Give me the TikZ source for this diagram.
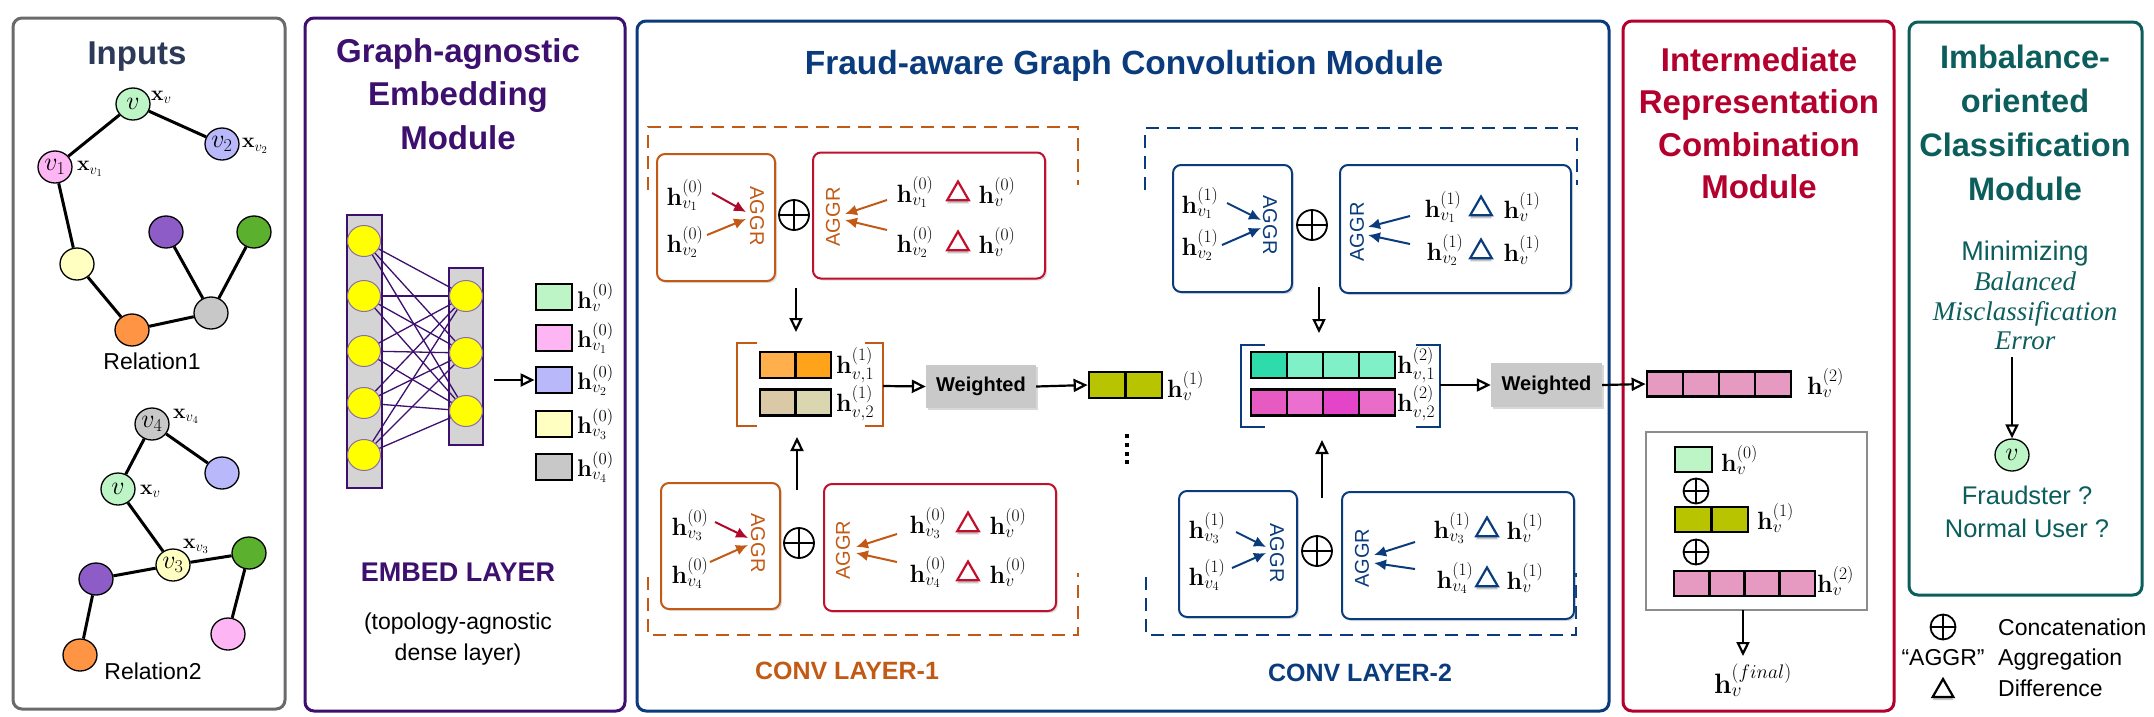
\RequirePackage{fix-cm}
\documentclass[tikz,border=0pt]{standalone}
\usepackage{amsmath}
\usepackage[no-math]{fontspec}
\newfontfamily\lsans{Liberation Sans}
\newfontfamily\lserif{Liberation Serif}
\usetikzlibrary{arrows.meta,shapes.geometric,shadows}

\definecolor{inpT}{HTML}{2C3A58}
\definecolor{inpB}{HTML}{6A6A6A}
\definecolor{embP}{HTML}{3D0F6E}
\definecolor{frB}{HTML}{0A3C7D}
\definecolor{cOr}{HTML}{C25A16}
\definecolor{cRed}{HTML}{C0102E}
\definecolor{arRed}{HTML}{B0082A}
\definecolor{imR}{HTML}{B3002D}
\definecolor{tealM}{HTML}{0B5E5C}
\definecolor{vG}{HTML}{BDF5C6}
\definecolor{vP}{HTML}{FDB5F3}
\definecolor{vL}{HTML}{B8B8FA}
\definecolor{vY}{HTML}{FFFFC2}
\definecolor{vO}{HTML}{FF9445}
\definecolor{vGy}{HTML}{C8C8C8}
\definecolor{vPu}{HTML}{8E5CC6}
\definecolor{vGr}{HTML}{5BB02E}
\definecolor{yelN}{HTML}{FFFF00}
\definecolor{colG}{HTML}{D4D4D4}
\definecolor{orA}{HTML}{FFB04D}
\definecolor{orB}{HTML}{FFA31A}
\definecolor{tnA}{HTML}{D9C9A6}
\definecolor{tnB}{HTML}{D9D6B0}
\definecolor{olv}{HTML}{B9C400}
\definecolor{tqA}{HTML}{2EDBAA}
\definecolor{tqB}{HTML}{80F0C8}
\definecolor{mgA}{HTML}{E65AC2}
\definecolor{mgB}{HTML}{EA6FCF}
\definecolor{mgC}{HTML}{E445C8}
\definecolor{mgD}{HTML}{E96CC9}
\definecolor{pkC}{HTML}{E699C1}
\definecolor{wG}{HTML}{C9C9C9}
\definecolor{boxG}{HTML}{8C8C8C}

\newcommand\hh[2]{$\mathbf{h}^{(#1)}_{#2}$}
\newcommand\fsz[1]{\fontsize{#1}{#1}\selectfont}

\tikzset{
  panel/.style={draw=#1, line width=3pt, rounded corners=9pt},
  gnode/.style={ellipse, draw=black, line width=1.3pt, minimum width=34pt, minimum height=32pt, inner sep=0pt, font=\fsz{26}},
  gedge/.style={line width=3pt, black},
  xlab/.style={inner sep=0pt, anchor=west, font=\fsz{21}},
  ynode/.style={ellipse, fill=yelN, draw=embP!60, line width=1pt, minimum width=33pt, minimum height=31pt, inner sep=0pt},
  colbox/.style={draw=embP, fill=colG, line width=1.5pt, inner sep=0pt},
  dense/.style={embP, line width=1.3pt},
  cell/.style={draw=black, line width=2.8pt, minimum width=36pt, minimum height=26pt, inner sep=0pt},
  hlab/.style={inner sep=0pt, font=\fsz{25}},
  bigarr/.style={line width=2.2pt, -{Triangle[open,length=14pt,width=13pt]}},
  sarr/.style={draw=#1, line width=2pt, -{Latex[length=12pt,width=11pt]}},
  cbox/.style={draw=#1, line width=2pt, rounded corners=8pt, fill=white, inner sep=0pt, drop shadow={shadow xshift=2pt, shadow yshift=-2pt, opacity=0.25}},
  aggrL/.style={inner sep=0pt, text=#1, font=\fsz{20}\lsans, rotate=-90},
  aggrR/.style={inner sep=0pt, text=#1, font=\fsz{20}\lsans, rotate=90},
  oplus/.style={circle, draw=black, line width=1.8pt, minimum size=#1, inner sep=0pt, path picture={\draw[line width=1.8pt] (path picture bounding box.north) -- (path picture bounding box.south) (path picture bounding box.west) -- (path picture bounding box.east);}},
  dtri/.style={regular polygon, regular polygon sides=3, draw=#1, fill=white, line width=2.2pt, minimum size=25pt, inner sep=0pt, drop shadow={shadow xshift=0pt, shadow yshift=-3pt, opacity=0.45}},
  wbox/.style={fill=wG, minimum width=110pt, minimum height=43pt, inner sep=0pt, font=\fsz{20}\lsans\bfseries, drop shadow={shadow xshift=1.5pt, shadow yshift=-2pt, opacity=0.3}},
  dashbr/.style={draw=#1, line width=2.5pt, dash pattern=on 13pt off 8pt},
  brk/.style={draw=#1, line width=2pt},
  vdot/.style={fill=black, minimum size=4.5pt, inner sep=0pt},
}

\begin{document}
\begin{tikzpicture}[x=1pt,y=-1pt]
\fill[white] (0,0) rectangle (2154,716);
\useasboundingbox (0,0) rectangle (2154,716);

% ---------------- panels
\draw[panel=inpB] (13,18) rectangle (285,709);
\draw[panel=embP] (305,18) rectangle (625,711);
\draw[panel=frB] (637,21) rectangle (1609,711);
\draw[panel=imR] (1623,21) rectangle (1894,711);
\draw[panel=tealM] (1909,22) rectangle (2142,595);

% ---------------- titles
\node[font=\fsz{33}\lsans\bfseries, text=inpT, anchor=base] (tIn) at (137,64) {Inputs};
\node[font={\fontsize{33}{43.5}\selectfont\lsans\bfseries}, text=embP, align=center] (tEm) at (458,94) {Graph-agnostic\\Embedding\\Module};
\node[font=\fsz{33.5}\lsans\bfseries, text=frB, anchor=base] (tFr) at (1124,74) {Fraud-aware Graph Convolution Module};
\node[font={\fontsize{33}{42.5}\selectfont\lsans\bfseries}, text=imR, align=center] (tIr) at (1759,123) {Intermediate\\Representation\\Combination\\Module};
\node[font={\fontsize{32.5}{44}\selectfont\lsans\bfseries}, text=tealM, align=center] (tIm) at (2025,123) {Imbalance-\\oriented\\Classification\\Module};

% ---------------- Inputs: relation 1
\node[gnode, fill=vG] (a) at (133,104) {$v$};
\node[gnode, fill=vL] (a2) at (222,144) {$v_2$};
\node[gnode, fill=vP] (a1) at (55,167) {$v_1$};
\node[gnode, fill=vY] (a3) at (77,264) {};
\node[gnode, fill=vPu] (a4) at (166,232) {};
\node[gnode, fill=vGr] (a5) at (254,232) {};
\node[gnode, fill=vGy] (a6) at (211,313) {};
\node[gnode, fill=vO] (a7) at (132,330) {};
\draw[gedge] (a) -- (a1) (a) -- (a2) (a1) -- (a3) (a3) -- (a7) (a7) -- (a6) (a6) -- (a4) (a6) -- (a5);
\node[xlab] (xa) at (151,97) {$\mathbf{x}_v$};
\node[xlab] (xa2) at (242,146) {$\mathbf{x}_{v_2}$};
\node[xlab] (xa1) at (77,169) {$\mathbf{x}_{v_1}$};
\node[font=\fsz{23}\lsans, anchor=base] (rel1) at (152,369) {Relation1};

% ---------------- Inputs: relation 2
\node[gnode, fill=vGy] (b4) at (152,424) {$v_4$};
\node[gnode, fill=vL] (bL) at (222,473) {};
\node[gnode, fill=vG] (b) at (118,489) {$v$};
\node[gnode, fill=vY] (b3) at (173,565) {$v_3$};
\node[gnode, fill=vGr] (bG) at (249,553) {};
\node[gnode, fill=vPu] (bP) at (96,579) {};
\node[gnode, fill=vP] (bK) at (228,634) {};
\node[gnode, fill=vO] (bO) at (80,655) {};
\draw[gedge] (b4) -- (b) (b4) -- (bL) (b) -- (b3) (b3) -- (bP) (b3) -- (bG) (bP) -- (bO) (bG) -- (bK);
\node[xlab] (xb4) at (173,416) {$\mathbf{x}_{v_4}$};
\node[xlab] (xb) at (140,491) {$\mathbf{x}_v$};
\node[xlab] (xb3) at (183,546) {$\mathbf{x}_{v_3}$};
\node[font=\fsz{23}\lsans, anchor=base] (rel2) at (153,679) {Relation2};

% ---------------- Embedding module
\node[colbox, minimum width=35pt, minimum height=273pt] (colL) at (364.5,351.5) {};
\node[colbox, minimum width=34pt, minimum height=177pt] (colR) at (466,356.5) {};
\foreach \y [count=\i] in {241,296,351,403,455} \node[ynode] (l\i) at (364,\y) {};
\foreach \y [count=\i] in {296,353,411} \node[ynode] (r\i) at (466,\y) {};
\foreach \i in {1,...,5} \foreach \j in {1,2,3} \draw[dense] (l\i) -- (r\j);
\foreach \c/\y [count=\i] in {vG/297, vP/338, vL/380, vY/424, vGy/467} \node[cell, fill=\c] (e\i) at (554,\y) {};
\node[hlab, font=\fsz{24}, anchor=west] (el1) at (577,297) {\hh{0}{v}};
\node[hlab, font=\fsz{24}, anchor=west] (el2) at (577,338) {\hh{0}{v_1}};
\node[hlab, font=\fsz{24}, anchor=west] (el3) at (577,380) {\hh{0}{v_2}};
\node[hlab, font=\fsz{24}, anchor=west] (el4) at (577,424) {\hh{0}{v_3}};
\node[hlab, font=\fsz{24}, anchor=west] (el5) at (577,467) {\hh{0}{v_4}};
\coordinate (ea) at (494,380);
\draw[bigarr] (ea) -- (e3.west);
\node[font=\fsz{27}\lsans\bfseries, text=embP, anchor=base] (embL) at (458,581) {EMBED LAYER};
\node[font={\fontsize{23}{31}\selectfont\lsans}, align=center] (embD) at (458,639) {(topology-agnostic\\dense layer)};

% ---------------- CONV LAYER-1
\draw[dashbr=cOr] (648,190) -- (648,127) -- (1078,127) -- (1078,185);
\draw[dashbr=cOr] (648,577) -- (648,635) -- (1078,635) -- (1078,573);
% top
\node[cbox=cOr, minimum width=118pt, minimum height=127pt] (T1L) at (716,217.5) {};
\node[cbox=cRed, minimum width=232pt, minimum height=126pt] (T1R) at (929,215.5) {};
\node[hlab] (T1a) at (685,195) {\hh{0}{v_1}};
\node[hlab] (T1b) at (685,242) {\hh{0}{v_2}};
\node[aggrL=cOr] (T1g) at (757,216) {AGGR};
\coordinate (T1p1) at (712,193); \coordinate (T1q1) at (746,212);
\coordinate (T1p2) at (707,235); \coordinate (T1q2) at (746,219);
\draw[sarr=arRed] (T1p1) -- (T1q1);
\draw[sarr=cOr] (T1p2) -- (T1q2);
\node[oplus=30pt] (T1o) at (794,215) {};
\node[aggrR=cOr] (T1G) at (833,217) {AGGR};
\coordinate (T1p3) at (887,200); \coordinate (T1q3) at (845,214);
\coordinate (T1p4) at (887,230); \coordinate (T1q4) at (845,220);
\draw[sarr=cOr] (T1p3) -- (T1q3);
\draw[sarr=cOr] (T1p4) -- (T1q4);
\node[hlab] (T1c) at (915,192) {\hh{0}{v_1}};
\node[dtri=cRed] (T1d) at (958,194) {};
\node[hlab] (T1e) at (997,192) {\hh{0}{v}};
\node[hlab] (T1f) at (915,242) {\hh{0}{v_2}};
\node[dtri=cRed] (T1h) at (958,244) {};
\node[hlab] (T1i) at (997,242) {\hh{0}{v}};
% bottom
\node[cbox=cOr, minimum width=119pt, minimum height=126pt] (B1L) at (720.5,546) {};
\node[cbox=cRed, minimum width=232pt, minimum height=127pt] (B1R) at (940,547.5) {};
\node[hlab] (B1a) at (690,525) {\hh{0}{v_3}};
\node[hlab] (B1b) at (690,573) {\hh{0}{v_4}};
\node[aggrL=cOr] (B1g) at (758,543) {AGGR};
\coordinate (B1p1) at (715,522); \coordinate (B1q1) at (748,538);
\coordinate (B1p2) at (710,562); \coordinate (B1q2) at (748,545);
\draw[sarr=arRed] (B1p1) -- (B1q1);
\draw[sarr=cOr] (B1p2) -- (B1q2);
\node[oplus=30pt] (B1o) at (799,543) {};
\node[aggrR=cOr] (B1G) at (843,550) {AGGR};
\coordinate (B1p3) at (897,534); \coordinate (B1q3) at (856,547);
\coordinate (B1p4) at (897,562); \coordinate (B1q4) at (856,553);
\draw[sarr=cOr] (B1p3) -- (B1q3);
\draw[sarr=cOr] (B1p4) -- (B1q4);
\node[hlab] (B1c) at (928,523) {\hh{0}{v_3}};
\node[dtri=cRed] (B1d) at (968,525) {};
\node[hlab] (B1e) at (1008,523) {\hh{0}{v}};
\node[hlab] (B1f) at (928,572) {\hh{0}{v_4}};
\node[dtri=cRed] (B1h) at (968,574) {};
\node[hlab] (B1i) at (1008,572) {\hh{0}{v}};
\node[font=\fsz{25}\lsans\bfseries, text=cOr, anchor=base] (cv1) at (847,679) {CONV LAYER-1};
% middle
\coordinate (d1s) at (796,288); \coordinate (d1e) at (796,332);
\draw[bigarr] (d1s) -- (d1e);
\coordinate (u1s) at (797,490); \coordinate (u1e) at (797,437);
\draw[bigarr] (u1s) -- (u1e);
\draw[brk=cOr] (757,343) -- (737,343) -- (737,426) -- (757,426);
\draw[brk=cOr] (865,343) -- (883,343) -- (883,426) -- (865,426);
\foreach \c [count=\i] in {orA,orB} \node[cell, minimum width=35.5pt, fill=\c] (m1a\i) at ({760+35.5*\i-17.75},365) {};
\foreach \c [count=\i] in {tnA,tnB} \node[cell, minimum width=35.5pt, fill=\c] (m1b\i) at ({760+35.5*\i-17.75},402.5) {};
\node[hlab, anchor=west] (m1la) at (836,365) {\hh{1}{v,1}};
\node[hlab, anchor=west] (m1lb) at (836,403) {\hh{1}{v,2}};
\coordinate (br1) at (883,386);
\node[wbox] (w1) at (981,386.5) {Weighted};
\draw[bigarr] (br1) -- (w1.west);
\foreach \i in {1,2} \node[cell, minimum width=36.5pt, fill=olv] (h1c\i) at ({1089+36.5*\i-18.25},385) {};
\draw[bigarr] (w1.east) -- (h1c1.west);
\node[hlab, anchor=west] (h1l) at (1167,386) {\hh{1}{v}};
\foreach \y [count=\i] in {436,445,454,462} \node[vdot] (dot\i) at (1127,\y) {};

% ---------------- CONV LAYER-2
\draw[dashbr=frB] (1145,190) -- (1145,128) -- (1577,128) -- (1577,185);
\draw[dashbr=frB] (1146,577) -- (1146,635) -- (1576,635) -- (1576,573);
% top
\node[cbox=frB, minimum width=119pt, minimum height=127pt] (T2L) at (1232.5,228.5) {};
\node[cbox=frB, minimum width=231pt, minimum height=128pt] (T2R) at (1455.5,229) {};
\node[hlab] (T2a) at (1200,203) {\hh{1}{v_1}};
\node[hlab] (T2b) at (1200,245) {\hh{1}{v_2}};
\node[aggrL=frB] (T2g) at (1270,225) {AGGR};
\coordinate (T2p1) at (1227,203); \coordinate (T2q1) at (1261,220);
\coordinate (T2p2) at (1222,245); \coordinate (T2q2) at (1261,228);
\draw[sarr=frB] (T2p1) -- (T2q1);
\draw[sarr=frB] (T2p2) -- (T2q2);
\node[oplus=30pt] (T2o) at (1312,225) {};
\node[aggrR=frB] (T2G) at (1357,232) {AGGR};
\coordinate (T2p3) at (1410,216); \coordinate (T2q3) at (1368,227);
\coordinate (T2p4) at (1410,244); \coordinate (T2q4) at (1368,235);
\draw[sarr=frB] (T2p3) -- (T2q3);
\draw[sarr=frB] (T2p4) -- (T2q4);
\node[hlab] (T2c) at (1443,207) {\hh{1}{v_1}};
\node[dtri=frB] (T2d) at (1481,209) {};
\node[hlab] (T2e) at (1522,207) {\hh{1}{v}};
\node[hlab] (T2f) at (1445,250) {\hh{1}{v_2}};
\node[dtri=frB] (T2h) at (1481,252) {};
\node[hlab] (T2i) at (1522,250) {\hh{1}{v}};
% bottom
\node[cbox=frB, minimum width=118pt, minimum height=126pt] (B2L) at (1238,554) {};
\node[cbox=frB, minimum width=232pt, minimum height=127pt] (B2R) at (1458,555.5) {};
\node[hlab] (B2a) at (1207,528) {\hh{1}{v_3}};
\node[hlab] (B2b) at (1207,575) {\hh{1}{v_4}};
\node[aggrL=frB] (B2g) at (1277,553) {AGGR};
\coordinate (B2p1) at (1236,532); \coordinate (B2q1) at (1266,547);
\coordinate (B2p2) at (1232,568); \coordinate (B2q2) at (1266,553);
\draw[sarr=frB] (B2p1) -- (B2q1);
\draw[sarr=frB] (B2p2) -- (B2q2);
\node[oplus=30pt] (B2o) at (1317,551) {};
\node[aggrR=frB] (B2G) at (1362,558) {AGGR};
\coordinate (B2p3) at (1415,542); \coordinate (B2q3) at (1374,555);
\coordinate (B2p4) at (1415,569); \coordinate (B2q4) at (1374,563);
\draw[sarr=frB] (B2p3) -- (B2q3);
\draw[sarr=frB] (B2p4) -- (B2q4);
\node[hlab] (B2c) at (1452,528) {\hh{1}{v_3}};
\node[dtri=frB] (B2d) at (1487,530) {};
\node[hlab] (B2e) at (1525,528) {\hh{1}{v}};
\node[hlab] (B2f) at (1455,578) {\hh{1}{v_4}};
\node[dtri=frB] (B2h) at (1487,580) {};
\node[hlab] (B2i) at (1525,578) {\hh{1}{v}};
\node[font=\fsz{25}\lsans\bfseries, text=frB, anchor=base] (cv2) at (1360,681) {CONV LAYER-2};
% middle
\coordinate (d2s) at (1319,287); \coordinate (d2e) at (1319,333);
\draw[bigarr] (d2s) -- (d2e);
\coordinate (u2s) at (1322,498); \coordinate (u2e) at (1322,440);
\draw[bigarr] (u2s) -- (u2e);
\draw[brk=frB] (1265,345) -- (1241,345) -- (1241,427) -- (1265,427);
\draw[brk=frB] (1416,345) -- (1440,345) -- (1440,427) -- (1416,427);
\foreach \c [count=\i] in {tqA,tqB,tqB,tqB} \node[cell, fill=\c] (m2a\i) at ({1251+36*\i-18},365) {};
\foreach \c [count=\i] in {mgA,mgB,mgC,mgD} \node[cell, fill=\c] (m2b\i) at ({1251+36*\i-18},402.5) {};
\node[hlab, anchor=west] (m2la) at (1397,365) {\hh{2}{v,1}};
\node[hlab, anchor=west] (m2lb) at (1397,403) {\hh{2}{v,2}};
\coordinate (br2) at (1440,385);
\node[wbox, minimum width=111pt, minimum height=44pt] (w2) at (1546.5,385) {Weighted};
\draw[bigarr] (br2) -- (w2.west);

% ---------------- Intermediate representation combination
\foreach \i in {1,...,4} \node[cell, minimum height=25pt, fill=pkC] (pk\i) at ({1647+36*\i-18},384) {};
\draw[bigarr] (w2.east) -- (pk1.west);
\node[hlab, anchor=west] (pkl) at (1807,383) {\hh{2}{v}};
\node[draw=boxG, line width=1.5pt, minimum width=221pt, minimum height=178pt, inner sep=0pt] (gbox) at (1756.5,521) {};
\node[cell, minimum width=37pt, minimum height=25pt, fill=vG] (f0) at (1693.5,459.5) {};
\node[hlab, anchor=west] (f0l) at (1721,460) {\hh{0}{v}};
\node[oplus=25pt] (fo1) at (1696,491) {};
\foreach \i in {1,2} \node[cell, minimum width=36.5pt, minimum height=25pt, fill=olv] (f1\i) at ({1675+36.5*\i-18.25},519.5) {};
\node[hlab, anchor=west] (f1l) at (1757,518) {\hh{1}{v}};
\node[oplus=25pt] (fo2) at (1696,552) {};
\foreach \i in {1,...,4} \node[cell, minimum width=35.25pt, minimum height=25pt, fill=pkC] (f2\i) at ({1674+35.25*\i-17.625},583.5) {};
\node[hlab, anchor=west] (f2l) at (1817,581) {\hh{2}{v}};
\node[hlab, font=\fsz{28}, anchor=north] (hf) at (1753,664) {$\mathbf{h}_v^{(final)}$};
\coordinate (ga) at (1743,610);
\draw[bigarr] (ga) -- (1743,656);

% ---------------- Imbalance-oriented classification
\node[font=\fsz{27}\lsans, text=tealM, anchor=base] (minz) at (2025,260) {Minimizing};
\node[font={\fontsize{27}{29.5}\selectfont\lserif\itshape}, text=tealM, align=center] (bme) at (2025,311) {Balanced\\Misclassification\\Error};
\node[gnode, fill=vG] (vc) at (2012,455) {$v$};
\coordinate (ia) at (2012,357);
\draw[bigarr] (ia) -- (vc.north);
\node[font={\fontsize{25.5}{33}\selectfont\lsans}, text=tealM, align=center] (fn) at (2027,512) {Fraudster ?\\Normal User ?};

% ---------------- legend
\node[oplus=25pt] (lg1) at (1943,627) {};
\node[font=\fsz{23}\lsans, anchor=base west, inner sep=0pt] (lt1) at (1998,635) {Concatenation};
\node[font=\fsz{23}\lsans, anchor=base, inner sep=0pt] (lg2) at (1943,665) {“AGGR”};
\node[font=\fsz{23}\lsans, anchor=base west, inner sep=0pt] (lt2) at (1998,665) {Aggregation};
\node[dtri=black, minimum size=24pt] (lg3) at (1943,691) {};
\node[font=\fsz{23}\lsans, anchor=base west, inner sep=0pt] (lt3) at (1998,696) {Difference};
\end{tikzpicture}
\end{document}
